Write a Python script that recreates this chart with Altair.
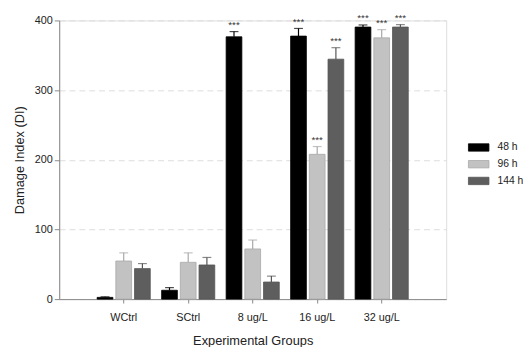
import altair as alt
import pandas as pd

groups = ["WCtrl", "SCtrl", "8 ug/L", "16 ug/L", "32 ug/L"]
times = ["48 h", "96 h", "144 h"]
# mean values per time (order: groups)
v48 = [2.5, 12.7, 376.5, 377.5, 390.5]
v96 = [54.7, 52.8, 72.0, 207.8, 375.0]
v144 = [43.8, 49.0, 24.5, 344.4, 390.5]
# error bar (upper) lengths
e48 = [0.8, 3.8, 7.5, 11.0, 3.0]
e96 = [11.7, 13.6, 12.8, 11.2, 11.8]
e144 = [7.2, 10.8, 8.5, 16.5, 3.5]
# significance marks
s48 = ["", "", "***", "***", "***"]
s96 = ["", "", "", "***", "***"]
s144 = ["", "", "", "***", "***"]

rows = []
for t, vals, errs, sig in [("48 h", v48, e48, s48), ("96 h", v96, e96, s96), ("144 h", v144, e144, s144)]:
    for g, v, e, s in zip(groups, vals, errs, sig):
        rows.append({"group": g, "time": t, "value": v, "top": v + e, "sig": s})
df = pd.DataFrame(rows)

colors = ["#000000", "#c2c2c2", "#5e5e5e"]
strokes = ["#000000", "#a8a8a8", "#555555"]

font = "Liberation Sans"

x = alt.X("group:N", sort=groups,
          scale=alt.Scale(paddingInner=0.176, paddingOuter=0.588),
          axis=alt.Axis(title="Experimental Groups", labelAngle=0, labelFontSize=11,
                        titleFontSize=13, titleFontWeight="normal", labelColor="#222",
                        titleColor="#222", domainColor="#888", tickColor="#888",
                        labelPadding=9, titlePadding=12, tickSize=4))
xo = alt.XOffset("time:N", sort=times, scale=alt.Scale(paddingInner=0.158, paddingOuter=0))
yscale = alt.Scale(domain=[0, 400], nice=False)

bars = alt.Chart(df).mark_bar(strokeWidth=0.8).encode(
    x=x,
    xOffset=xo,
    y=alt.Y("value:Q", scale=yscale,
            axis=alt.Axis(title="Damage Index (DI)", values=[0, 100, 200, 300, 400],
                          labelFontSize=11, titleFontSize=13, titleFontWeight="normal",
                          labelColor="#222", titleColor="#222", domainColor="#888",
                          tickColor="#888", tickSize=5, labelPadding=2, titlePadding=8,
                          grid=True, gridDash=[6, 4], gridColor="#dcdcdc")),
    fill=alt.Fill("time:N", sort=times, scale=alt.Scale(domain=times, range=colors),
                  legend=alt.Legend(title=None, orient="none", legendX=415, legendY=118,
                                    symbolType="M-1,-0.36H1V0.36H-1Z", symbolSize=434,
                                    symbolStrokeColor="#777", symbolStrokeWidth=0.8,
                                    labelFontSize=10.5, labelColor="#222", labelFont=font,
                                    rowPadding=-8, labelOffset=8)),
    stroke=alt.Stroke("time:N", sort=times, scale=alt.Scale(domain=times, range=strokes), legend=None),
)

err = alt.Chart(df).mark_rule(strokeWidth=1.2).encode(
    x=alt.X("group:N", sort=groups),
    xOffset=xo,
    y=alt.Y("value:Q", scale=yscale),
    y2="top:Q",
    color=alt.Color("time:N", sort=times, scale=alt.Scale(domain=times, range=strokes), legend=None),
)

caps = alt.Chart(df).mark_tick(size=9, thickness=1.2, orient="horizontal").encode(
    x=alt.X("group:N", sort=groups),
    xOffset=xo,
    y=alt.Y("top:Q", scale=yscale),
    color=alt.Color("time:N", sort=times, scale=alt.Scale(domain=times, range=strokes), legend=None),
)

stars = alt.Chart(df).mark_text(fontSize=10, dy=-2, color="#333", font=font, baseline="bottom").encode(
    x=alt.X("group:N", sort=groups),
    xOffset=xo,
    y=alt.Y("top:Q", scale=yscale),
    text="sig:N",
)

chart = alt.layer(bars, err, caps, stars).resolve_scale(color="independent").properties(
    width=393, height=283,
    autosize=alt.AutoSizeParams(type="none"),
    padding={"left": 52, "top": 10, "right": 78, "bottom": 46},
).configure_view(stroke=None).configure(font=font)

chart.save("out.html", embed_options={"renderer": "svg", "actions": False})
